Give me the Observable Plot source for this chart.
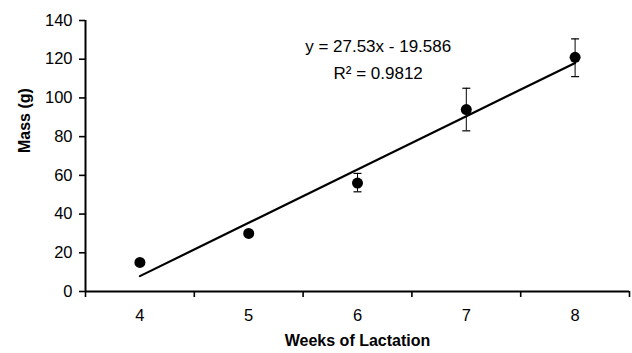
<!DOCTYPE html>
<html>
<head>
<meta charset="utf-8">
<script src="https://cdn.jsdelivr.net/npm/d3@7"></script>
<script src="https://cdn.jsdelivr.net/npm/@observablehq/plot@0.6"></script>
<style>
  html, body { margin: 0; padding: 0; background: #fff; }
  #chart svg { font-family: "Liberation Sans", Arial, sans-serif; }
</style>
</head>
<body>
<div id="chart"></div>
<script>
// Data
const weeks = [4, 5, 6, 7, 8];
const mass = [15, 30, 56, 94, 121];
const errLow = [null, null, 51.5, 83, 111];
const errHigh = [null, null, 61, 105, 130.5];
const yTicks = [0, 20, 40, 60, 80, 100, 120, 140];
const xTickMarks = [3.5, 4.5, 5.5, 6.5, 7.5, 8.5];
// Excel trendline: y = slope * x + intercept, with x = series index (1..5)
const slope = 27.53;
const intercept = -19.586;
const equationLines = ["y = 27.53x - 19.586", "R² = 0.9812"];
const xLabel = "Weeks of Lactation";
const yLabel = "Mass (g)";

const points = weeks.map((w, i) => ({week: w, mass: mass[i], lo: errLow[i], hi: errHigh[i]}));
const errPoints = points.filter(d => d.lo != null);
const trend = weeks.map((w, i) => ({week: w, fit: slope * (i + 1) + intercept}));

const capSymbol = {
  draw(context, size) {
    const r = Math.sqrt(size / Math.PI);
    context.moveTo(-r, 0);
    context.lineTo(r, 0);
  }
};

const fs = 16.5;

const chart = Plot.plot({
  width: 632,
  height: 353,
  marginLeft: 85,
  marginRight: 3,
  marginTop: 20,
  marginBottom: 62,
  style: {fontFamily: '"Liberation Sans", Arial, sans-serif', color: "#000", background: "#fff"},
  x: {domain: [3.5, 8.5]},
  y: {domain: [0, 140]},
  marks: [
    Plot.axisY({ticks: yTicks, tickSize: 6, tickPadding: 7, fontSize: fs, label: null, strokeWidth: 1.6}),
    Plot.axisX({ticks: xTickMarks, tickSize: 6, tickFormat: () => "", label: null, strokeWidth: 1.6}),
    Plot.axisX({ticks: weeks, tickSize: 0, tickPadding: 18, fontSize: fs, label: null, tickFormat: d => String(d)}),
    Plot.ruleX([3.5], {strokeWidth: 2}),
    Plot.ruleY([0], {strokeWidth: 2}),
    Plot.line(trend, {x: "week", y: "fit", stroke: "#000", strokeWidth: 2.2}),
    Plot.ruleX(errPoints, {x: "week", y1: "lo", y2: "hi", stroke: "#000", strokeWidth: 1}),
    Plot.dot(errPoints, {x: "week", y: "lo", symbol: capSymbol, r: 4, stroke: "#000", strokeWidth: 1.2, fill: "none"}),
    Plot.dot(errPoints, {x: "week", y: "hi", symbol: capSymbol, r: 4, stroke: "#000", strokeWidth: 1.2, fill: "none"}),
    Plot.dot(points, {x: "week", y: "mass", r: 5.5, fill: "#000", stroke: null}),
    Plot.text([equationLines.join("\n")], {x: 6.19, y: 133.8, text: d => d, fontSize: 17, lineHeight: 1.6, textAnchor: "middle", lineAnchor: "top"}),
    Plot.text([xLabel], {frameAnchor: "bottom", dy: 54, text: d => d, fontSize: 16, fontWeight: "bold"}),
    Plot.text([yLabel], {frameAnchor: "left", dx: -61, dy: -3, rotate: -90, text: d => d, fontSize: 16, fontWeight: "bold"})
  ]
});
document.getElementById("chart").appendChild(chart);
</script>
</body>
</html>
